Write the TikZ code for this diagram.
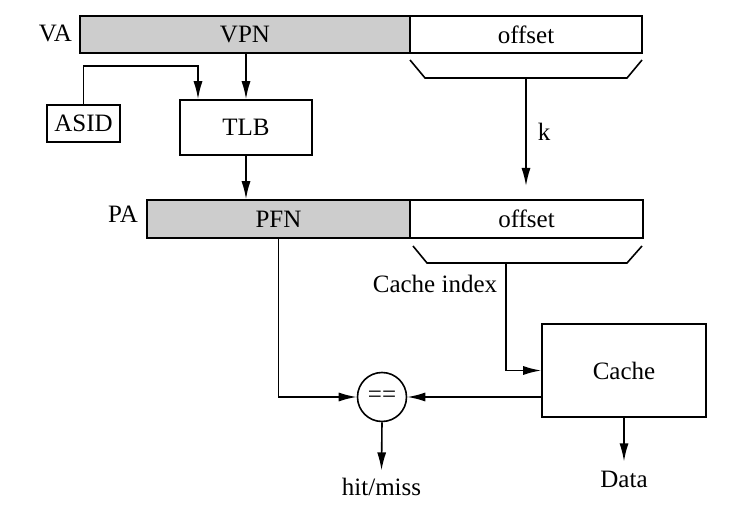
\documentclass[tikz,border=0pt]{standalone}
\usepackage{fontspec}
\setmainfont{Liberation Serif}
\usetikzlibrary{arrows.meta}
\definecolor{shade}{HTML}{CDCDCD}
\tikzset{
  box/.style={draw,line width=1.6pt,inner sep=0pt},
  lbl/.style={inner sep=0pt},
  wire/.style={line width=1.6pt},
  arr/.style={wire,-{Latex[length=18pt,width=9pt]}}
}

\begin{document}
\begin{tikzpicture}[x=1pt,y=-1pt,font=\fontsize{25}{28}\selectfont]
\useasboundingbox (0,0) rectangle (740,516);
% address bars
\node[box,fill=shade,minimum width=330,minimum height=37] (vpn) at (245,34.5){VPN};
\node[box,minimum width=232,minimum height=37] (voff) at (526,34.5){offset};
\node[lbl,anchor=base east] (va) at (72,42){VA};
\node[box,fill=shade,minimum width=263,minimum height=38] (pfn) at (278.5,219){PFN};
\node[box,minimum width=233,minimum height=38] (poff) at (526.5,219){offset};
\node[lbl,anchor=base east] (pa) at (138,223){PA};
% boxes
\node[box,minimum width=73,minimum height=37] (asid) at (83.5,123.5){ASID};
\node[box,minimum width=132,minimum height=55] (tlb) at (246,127.5){TLB};
\node[box,minimum width=164,minimum height=93] (cache) at (624,370.5){Cache};
\node[box,circle,minimum size=49] (cmp) at (382,397){==};
\node[lbl,anchor=base] (hit) at (381.5,495){hit/miss};
\node[lbl,anchor=base] (data) at (624,487){Data};
\node[lbl,anchor=base] (cidx) at (435,293){Cache index};
% brackets under the offsets
\draw[wire] (410,60)--(425,78)--(627,78)--(642,60);
\draw[wire] (413,246)--(427,263)--(627,263)--(642,246);
\coordinate (k0) at (526,78);\coordinate (k1) at (526,186);
\coordinate (ci) at (506,263);\coordinate (bend) at (198,66);
% connectors
\draw[arr] (k0)--(k1) node[lbl,midway,right=11pt]{k};
\draw[arr] (asid.north) |- (bend)--(bend |- tlb.north);
\draw[arr] (tlb |- vpn.south)--(tlb.north);
\draw[arr] (tlb.south)--(tlb |- pfn.north);
\draw[arr] (ci) |- (cache.west);
\draw[arr] (cache.west |- cmp)--(cmp.east);
\draw[arr] (pfn.south) |- (cmp.west);
\draw[arr] (cmp.south)--([yshift=7pt]hit.north);
\draw[arr] (cache.south)--([yshift=9pt]data.north);
\end{tikzpicture}
\end{document}
